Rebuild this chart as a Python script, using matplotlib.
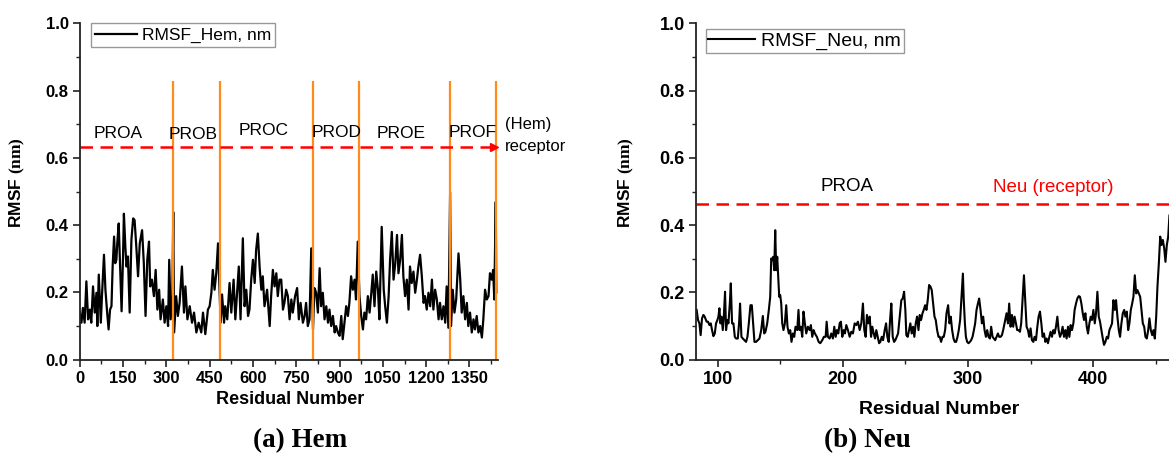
import matplotlib
matplotlib.use("Agg")
import matplotlib.pyplot as plt
from matplotlib.ticker import MultipleLocator

plt.rcParams['font.family'] = ['Liberation Sans', 'DejaVu Sans']
plt.rcParams['mathtext.fontset'] = 'custom'
plt.rcParams['mathtext.bf'] = 'Liberation Serif:bold'
plt.rcParams['mathtext.rm'] = 'Liberation Serif'

# ---- Hem ----
hem_resid = [0, 6, 11, 17, 23, 29, 35, 40, 46, 52, 58, 61, 66, 73, 77, 84, 89, 95, 100, 105,
             110, 114, 119, 123, 127, 130, 135, 140, 145, 150, 153, 158, 162, 167, 173, 179, 185, 190, 196, 202,
             208, 216, 222, 228, 234, 240, 244, 250, 257, 263, 269, 275, 280, 288, 294, 300, 306, 310, 315, 321,
             324, 327, 334, 340, 346, 354, 361, 366, 373, 381, 389, 396, 404, 412, 421, 427, 435, 444, 450, 456,
             461, 467, 473, 479,
             488, 493, 500, 504, 511, 519, 525, 533, 539, 546, 551, 557, 565, 571, 577, 583, 588, 594, 600, 606,
             611, 617, 623, 629, 634, 640, 649, 658, 663, 669, 675, 681, 686, 692, 698, 704, 709, 715, 721, 727,
             733, 738, 746, 753, 759, 765, 773, 779, 784, 790, 796, 802, 808, 813, 819, 825, 831, 836, 842, 848,
             854, 860, 865, 871, 877, 883, 888, 894, 900, 906, 911, 917, 923, 929, 934, 940, 946, 952, 957, 963,
             969, 975, 981, 986, 992, 998, 1004, 1010, 1015, 1021, 1027, 1033, 1038, 1046, 1053, 1058, 1064, 1070,
             1075, 1081, 1087, 1093, 1099, 1104, 1110, 1116, 1121, 1127, 1133, 1139, 1144, 1150, 1156, 1162, 1168,
             1173, 1179, 1185, 1191, 1196, 1202, 1208, 1214, 1220, 1225, 1231, 1237, 1243, 1248, 1254, 1260, 1266,
             1271, 1277, 1283, 1286, 1292, 1298, 1304, 1312, 1318, 1323, 1329, 1335, 1341, 1346, 1352, 1358, 1364,
             1369, 1375, 1381, 1387, 1393, 1398, 1404, 1410, 1416, 1421, 1427, 1432, 1436, 1441, 1443]
hem_rmsf = [.14, .11, .154, .11, .233, .12, .149, .11, .218, .14, .199, .10, .253, .11, .189, .312, .208, .14, .09, .149,
            .159, .277, .366, .287, .297, .346, .405, .277, .144, .307, .434, .336, .277, .307, .14, .356, .42, .415, .336, .248,
            .346, .385, .287, .13, .297, .351, .218, .238, .189, .267, .149, .208, .12, .179, .11, .159, .10, .297, .12, .189,
            .439, .081, .189, .13, .169, .277, .14, .218, .12, .159, .11, .14, .081, .11, .081, .14, .076, .149, .159, .199,
            .267, .208, .257, .346,
            .11, .194, .11, .159, .12, .228, .14, .238, .12, .213, .277, .12, .361, .159, .208, .13, .149, .238, .297, .228,
            .326, .375, .277, .208, .248, .159, .208, .10, .189, .267, .218, .257, .189, .238, .238, .149, .169, .208, .189, .12,
            .179, .14, .189, .213, .12, .169, .11, .13, .169, .10, .12, .331, .09, .213, .199, .14, .272, .159, .199, .12,
            .159, .11, .149, .10, .13, .081, .10, .081, .071, .13, .061, .11, .159, .13, .169, .248, .208, .238, .179, .351,
            .189, .13, .09, .14, .12, .189, .14, .199, .253, .159, .262, .208, .12, .395, .208, .159, .11, .189,
            .297, .38, .238, .287, .371, .257, .297, .371, .248, .189, .238, .149, .277, .228, .262, .199, .238,
            .277, .312, .248, .169, .189, .149, .199, .159, .238, .149, .208, .179, .12, .169, .12, .159, .11,
            .218, .095, .498, .10, .208, .14, .179, .316, .238, .14, .189, .12, .169, .10, .14, .081, .12,
            .09, .13, .081, .10, .066, .12, .208, .179, .189, .257, .238, .267, .179, .469, .20]
hem_bounds = [323, 485, 807, 969, 1281, 1442]
hem_chains = ["PROA", "PROB", "PROC", "PROD", "PROE", "PROF"]
hem_receptor = 0.633

# ---- Neu ----
neu_resid = [83.1, 84.2, 85.3, 86.3, 87.4, 88.5, 89.5, 91.1, 92.2, 93.3, 94.4, 95.4, 96.5, 97.6, 98.6, 99.7,
             100.5, 101.3, 102.1, 102.9, 104.0, 104.8, 105.8, 106.6, 107.7, 108.5, 109.6, 110.4, 111.4, 112.5,
             113.6, 114.6, 116.0, 117.0, 117.8, 118.9, 120.0, 121.3, 122.6, 123.7, 124.8, 126.1, 127.2, 128.2,
             129.3, 130.6, 132.0, 133.3, 134.7, 136.0, 137.1, 138.1, 139.5, 140.8, 141.9, 142.7, 143.5, 144.3,
             145.1, 145.9, 146.7, 147.5, 148.3, 149.1, 149.9, 150.7, 151.5, 152.5, 153.6, 154.7, 155.7, 156.8,
             157.9, 158.9, 160.0, 161.1, 162.1, 163.5, 164.5, 165.3, 166.4, 167.5, 168.5, 169.6, 170.7, 172.0,
             173.4, 174.4, 175.5, 176.6, 177.6, 179.2, 180.6, 181.9, 183.5, 184.8, 186.2, 187.0, 188.0, 189.4,
             190.7, 192.0, 193.1, 194.2, 195.2, 196.3, 197.4, 198.4, 199.5, 200.6, 201.6, 202.7,
             204.0, 205.4, 206.7, 208.0, 209.4, 210.7, 212.0, 213.4, 214.7, 216.0, 217.1, 218.2, 219.2, 220.3,
             221.4, 222.5, 223.5, 224.6, 225.7, 226.7, 227.8, 228.9, 229.9, 231.0, 232.1, 233.4, 234.5, 235.5,
             236.6, 237.7, 238.7, 239.8, 240.9, 241.9, 243.0, 244.1, 245.4, 246.7, 247.8, 248.9, 249.9, 250.7,
             251.8, 252.9, 253.9, 255.0, 256.1, 257.1, 258.2, 259.3, 260.4, 261.4, 262.5, 263.6, 264.6, 265.7,
             266.8, 267.8, 268.9, 270.0, 271.0, 272.1, 273.2, 274.2, 275.3, 276.4, 277.4, 278.5, 279.6, 280.6,
             281.7, 282.8, 284.1, 285.2, 286.2, 287.3, 288.4, 289.4, 290.5, 291.6, 292.6, 293.7, 294.8, 295.9,
             296.6, 297.5, 298.3, 299.3, 300.4, 301.5, 302.5, 303.6, 304.7, 305.7, 306.8, 307.9, 308.9, 310.0,
             311.1, 312.1, 313.2, 314.3, 315.3, 316.4, 317.5, 318.5, 319.6, 320.7, 321.7, 322.8, 323.9, 324.9,
             326.0, 327.1, 328.1, 329.2, 330.3,
             330.8, 331.9, 332.9, 334.0, 335.1, 336.1, 337.2, 338.3, 339.3, 340.4, 341.5, 342.5, 343.6, 344.7,
             345.7, 346.8, 347.9, 348.9, 350.0, 351.1, 352.2, 353.2, 354.3, 355.4, 356.4, 357.5, 358.6, 359.6,
             360.7, 361.8, 362.8, 363.9, 365.0, 366.0, 367.1, 368.2, 369.2, 370.3, 371.4, 372.4, 373.5, 374.6,
             375.6, 376.7, 377.8, 378.8, 379.9, 381.0, 382.0, 383.1, 384.2, 385.2, 386.3, 387.4, 388.5, 389.5,
             390.6, 391.7, 392.7, 393.8, 394.9, 395.9, 397.0, 398.1, 399.1, 400.2, 401.3, 402.3, 403.4, 404.5,
             405.5, 406.6, 407.7, 408.7, 409.8, 410.9, 411.9, 413.0, 414.1, 415.1, 416.2, 417.3, 418.3, 419.4,
             420.5, 421.5, 422.6, 423.7, 424.8, 425.8, 426.9, 428.0, 429.0, 430.1, 431.2, 432.2, 433.3, 434.4,
             435.4, 436.5, 437.6, 438.6, 439.7, 440.8, 441.8, 442.9, 444.0, 445.0, 446.1, 447.2, 448.2, 449.3,
             450.4, 451.4, 452.5, 453.6, 454.6, 455.7, 456.8, 457.8, 458.9, 460.0, 461.0, 462.0]
neu_rmsf = [.148, .118, .108, .073, .123, .133, .128, .113, .113, .103, .108, .088, .070, .078, .108, .118,
            .128, .153, .108, .128, .088, .128, .202, .088, .118, .108, .167, .227, .108, .108,
            .068, .063, .063, .108, .167, .068, .063, .058, .053, .068, .108, .162, .162, .108,
            .053, .053, .058, .063, .088, .130, .078, .083, .108, .148, .187, .301, .296, .306,
            .266, .385, .266, .306, .247, .187, .192, .167, .108, .088, .108, .162, .098, .078,
            .088, .053, .078, .068, .098, .088, .148, .088, .098, .068, .143, .108, .078, .098,
            .088, .103, .068, .088, .078, .068, .053, .049, .058, .068, .068, .113, .068, .063,
            .078, .063, .098, .068, .088, .078, .108, .113, .068, .088, .078, .103,
            .088, .068, .083, .078, .108, .103, .113, .088, .108, .167, .088, .068, .133, .108,
            .128, .068, .098, .078, .063, .088, .068, .049, .053, .068, .058, .088, .108, .068,
            .053, .118, .167, .068, .053, .058, .068, .078, .128, .177, .182, .202, .148, .073,
            .068, .088, .108, .078, .098, .068, .108, .128, .088, .133, .118, .138, .148, .162,
            .148, .177, .222, .217, .207, .167, .128, .118, .088, .068, .068, .053, .068, .068,
            .088, .138, .162, .108, .128, .088, .063, .053, .053, .068, .088, .118, .187, .256,
            .177, .108, .068, .053, .049, .053, .058, .068, .088, .108, .148, .167, .182, .148,
            .108, .128, .088, .068, .088, .068, .063, .098, .068, .063, .058, .068, .078, .068,
            .068, .073, .088, .108, .128,
            .138, .108, .167, .098, .133, .098, .128, .108, .088, .088, .083, .108, .177, .251,
            .177, .098, .088, .068, .093, .058, .053, .068, .058, .098, .128, .143, .108, .068,
            .078, .053, .063, .049, .068, .083, .068, .088, .078, .098, .128, .088, .068, .078,
            .098, .068, .088, .063, .098, .068, .103, .088, .108, .148, .167, .182, .189, .187,
            .167, .138, .118, .138, .098, .078, .108, .128, .118, .148, .108, .138, .202, .128,
            .113, .088, .063, .044, .053, .068, .063, .088, .098, .108, .177, .148, .177, .128,
            .088, .068, .108, .138, .148, .128, .143, .088, .108, .148, .167, .187, .251, .197,
            .207, .197, .187, .148, .108, .098, .068, .063, .088, .123, .088, .073, .088, .063,
            .128, .217, .286, .366, .341, .356, .331, .291, .341, .366, .430, .430]
neu_receptor = 0.462

fig = plt.figure(figsize=(11.69, 4.71), dpi=100)
ax1 = fig.add_axes([0.0682, 0.2363, 0.3576, 0.7142])
ax2 = fig.add_axes([0.5954, 0.2363, 0.4066, 0.7142])

orange = '#FF8C1A'


def style_axes(ax, tick_size):
    for s in ['top', 'right']:
        ax.spines[s].set_visible(False)
    for s in ['left', 'bottom']:
        ax.spines[s].set_linewidth(1.3)
        ax.spines[s].set_color('#222222')
    ax.set_ylim(0, 1.0)
    ax.yaxis.set_major_locator(MultipleLocator(0.2))
    ax.yaxis.set_minor_locator(MultipleLocator(0.1))
    ax.tick_params(which='major', direction='out', length=5, width=1.2, colors='#222222', pad=3)
    ax.tick_params(which='minor', direction='out', length=3, width=1.0, colors='#222222')
    for lab in ax.get_xticklabels() + ax.get_yticklabels():
        lab.set_fontsize(tick_size)
        lab.set_fontweight('bold')
        lab.set_color('black')
    ax.set_ylabel(r'RMSF $\mathbf{(nm)}$', fontsize=12.5, fontweight='bold')


# ---- (a) Hem ----
ax1.plot(hem_resid, hem_rmsf, color='black', lw=1.6, label='RMSF_Hem, nm')
ax1.vlines(hem_bounds, 0, 0.828, color=orange, lw=1.6)
ax1.plot([0, 1436], [hem_receptor, hem_receptor], color='red', lw=1.8, dashes=(5, 3))
ax1.plot([1436], [hem_receptor], marker='>', color='red', ms=6, clip_on=False)
ax1.set_xlim(0, 1448)
ax1.xaxis.set_major_locator(MultipleLocator(150))
ax1.xaxis.set_minor_locator(MultipleLocator(75))
style_axes(ax1, 12)

label_x = [134, 393, 636, 889, 1114, 1362]
label_y = [0.673, 0.670, 0.681, 0.676, 0.671, 0.675]
for name, x, y in zip(hem_chains, label_x, label_y):
    ax1.text(x, y, name, fontsize=12.5, ha='center', va='center')
ax1.text(1474, 0.698, '(Hem)', fontsize=12, ha='left', va='center', clip_on=False)
ax1.text(1474, 0.633, 'receptor', fontsize=12, ha='left', va='center', clip_on=False)

ax1.legend(loc='upper left', bbox_to_anchor=(0.026, 1.0), borderaxespad=0,
           fancybox=False, edgecolor='#999999', framealpha=1, fontsize=12.5,
           handlelength=2.4, handletextpad=0.3, borderpad=0.25)
ax1.set_xlabel('Residual Number', fontsize=13, fontweight='bold')
ax1.xaxis.set_label_coords(0.503, -0.093)
ax1.yaxis.set_label_coords(-0.126, 0.528)

# ---- (b) Neu ----
ax2.plot(neu_resid, neu_rmsf, color='black', lw=1.5, label='RMSF_Neu, nm')
ax2.plot([82.6, 462], [neu_receptor, neu_receptor], color='red', lw=1.8, dashes=(5, 3))
ax2.set_xlim(82.6, 462.5)
ax2.xaxis.set_major_locator(MultipleLocator(100))
ax2.xaxis.set_minor_locator(MultipleLocator(50))
style_axes(ax2, 13)

ax2.text(203, 0.516, 'PROA', fontsize=13.5, ha='center', va='center')
ax2.text(368, 0.512, 'Neu (receptor)', fontsize=13.5, ha='center', va='center', color='red')

ax2.legend(loc='upper left', bbox_to_anchor=(0.02, 0.983), borderaxespad=0,
           fancybox=False, edgecolor='#999999', framealpha=1, fontsize=14,
           handlelength=2.4, handletextpad=0.3, borderpad=0.15)
ax2.set_xlabel('Residual Number', fontsize=14, fontweight='bold')
ax2.xaxis.set_label_coords(0.512, -0.123)
ax2.yaxis.set_label_coords(-0.126, 0.528)

# captions
fig.text(300 / 1169, 1 - 441 / 471, '(a) Hem', fontsize=19.5, fontweight='bold',
         family='Liberation Serif', ha='center', va='center')
fig.text(867 / 1169, 1 - 441 / 471, '(b) Neu', fontsize=19.5, fontweight='bold',
         family='Liberation Serif', ha='center', va='center')

fig.savefig('out.png', dpi=100)
